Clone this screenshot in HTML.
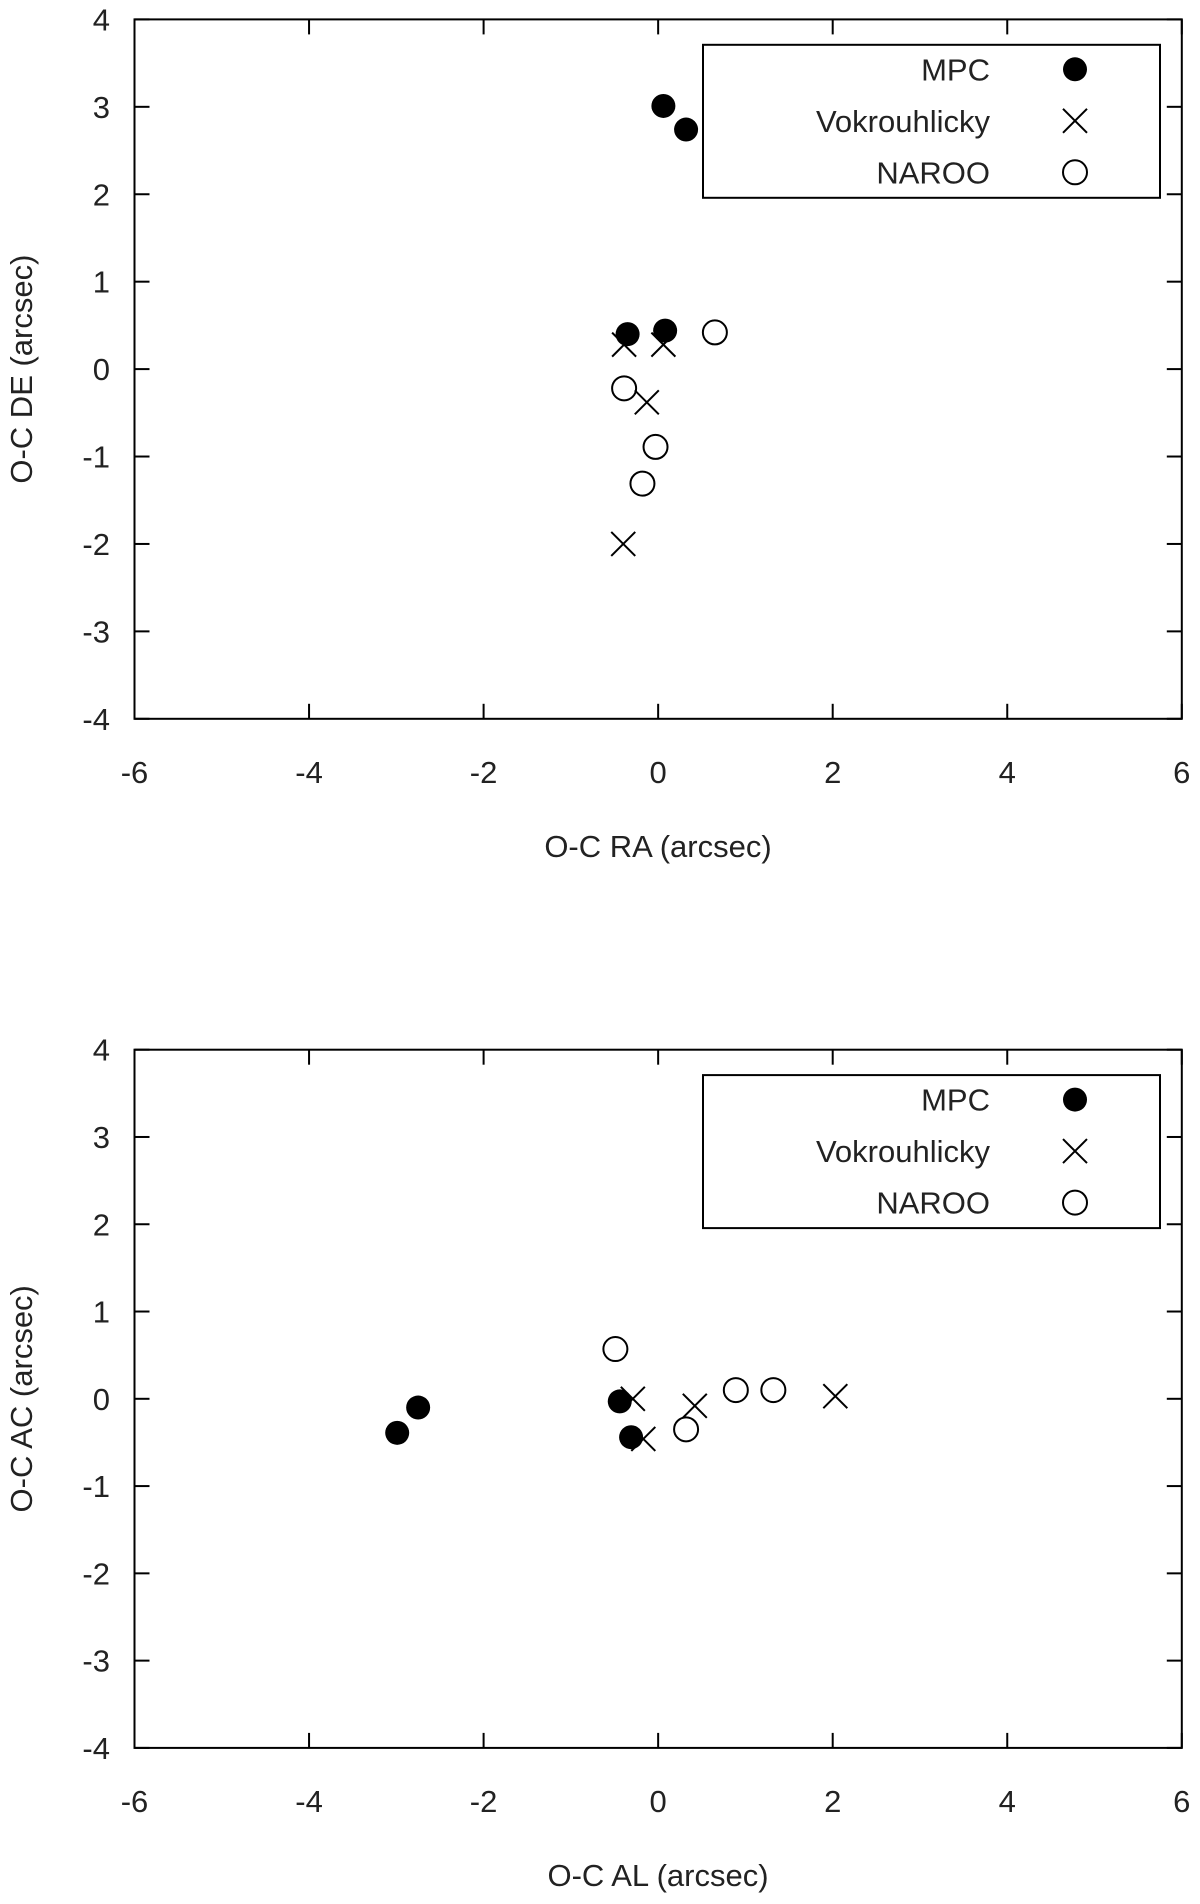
<!DOCTYPE html>
<html><head><meta charset="utf-8"><style>
html,body{margin:0;padding:0;background:#fff;}
svg{display:block;font-family:"Liberation Sans",sans-serif;}
</style></head><body>
<svg id="chart" width="1200" height="1904" viewBox="0 0 1200 1904" xmlns="http://www.w3.org/2000/svg"></svg>
<script>
// Top panel data (O-C RA, O-C DE)
const topMpcX = [0.06, 0.32, -0.35, 0.08];
const topMpcY = [3.01, 2.74, 0.40, 0.44];
const topVokX = [-0.39, 0.06, -0.13, -0.40];
const topVokY = [0.28, 0.28, -0.38, -2.0];
const topNarooX = [0.65, -0.39, -0.03, -0.18];
const topNarooY = [0.42, -0.22, -0.89, -1.31];
// Bottom panel data (O-C AL, O-C AC)
const botMpcX = [-0.44, -0.31, -2.75, -2.99];
const botMpcY = [-0.03, -0.44, -0.10, -0.39];
const botVokX = [-0.29, -0.17, 0.42, 2.03];
const botVokY = [0.0, -0.46, -0.08, 0.03];
const botNarooX = [-0.49, 0.32, 0.89, 1.32];
const botNarooY = [0.57, -0.35, 0.10, 0.10];
const xTicks = [-6, -4, -2, 0, 2, 4, 6];
const yTicks = [-4, -3, -2, -1, 0, 1, 2, 3, 4];
const legendLabels = ["MPC", "Vokrouhlicky", "NAROO"];

const NS = "http://www.w3.org/2000/svg";
const svg = document.getElementById('chart');
function mk(tag, attrs, parent, text) {
  const e = document.createElementNS(NS, tag);
  for (const k in attrs) e.setAttribute(k, attrs[k]);
  if (text !== undefined) e.textContent = text;
  (parent || svg).appendChild(e);
  return e;
}
function marker(g, type, cx, cy, name) {
  let e;
  if (type === 0) {
    e = mk('circle', {cx: cx, cy: cy, r: 12, fill: '#000'}, g);
  } else if (type === 1) {
    e = mk('path', {d: `M${cx-12},${cy-12}L${cx+12},${cy+12}M${cx+12},${cy-12}L${cx-12},${cy+12}`, stroke: '#000', 'stroke-width': 2, fill: 'none'}, g);
  } else {
    e = mk('circle', {cx: cx, cy: cy, r: 12, fill: 'none', stroke: '#000', 'stroke-width': 2}, g);
  }
  
  
  return e;
}
function panel(id, top, bottom, xTitle, yTitle, series) {
  const L = 134.5, R = 1181.8;
  const g = mk('g', {});
  
  
  const xs = v => L + (v + 6) / 12 * (R - L);
  const ys = v => bottom - (v + 4) / 8 * (bottom - top);
  const frame = mk('rect', {x: L, y: top, width: R - L, height: bottom - top, fill: 'none', stroke: '#000', 'stroke-width': 2}, g);
  
  
  xTicks.forEach(t => {
    const x = xs(t);
    mk('line', {x1: x, y1: bottom, x2: x, y2: bottom - 15, stroke: '#000', 'stroke-width': 2}, g);
    mk('line', {x1: x, y1: top, x2: x, y2: top + 15, stroke: '#000', 'stroke-width': 2}, g);
    const lb = mk('text', {x: x, y: bottom + 64, 'text-anchor': 'middle', 'font-size': 31, fill: '#222'}, g, String(t));
    
    
  });
  yTicks.forEach(t => {
    const y = ys(t);
    mk('line', {x1: L, y1: y, x2: L + 15, y2: y, stroke: '#000', 'stroke-width': 2}, g);
    mk('line', {x1: R, y1: y, x2: R - 15, y2: y, stroke: '#000', 'stroke-width': 2}, g);
    const lb = mk('text', {x: 110, y: y + 11, 'text-anchor': 'end', 'font-size': 31, fill: '#222'}, g, String(t));
    
    
  });
  const xt = mk('text', {x: 658, y: bottom + 138, 'text-anchor': 'middle', 'font-size': 31, fill: '#222'}, g, xTitle);
  
  
  const yc = (top + bottom) / 2;
  const yt = mk('text', {x: 32, y: yc, 'text-anchor': 'middle', 'font-size': 31, fill: '#222', transform: `rotate(-90 32 ${yc})`}, g, yTitle);
  
  
  // legend
  const lg = mk('g', {}, g);
  
  
  const lt = top + 25.4;
  mk('rect', {x: 703, y: lt, width: 457, height: 153, fill: '#fff', stroke: '#000', 'stroke-width': 2}, lg);
  legendLabels.forEach((name, i) => {
    const cy = lt + 24.5 + i * 51.5;
    const tx = mk('text', {x: 990, y: cy + 11, 'text-anchor': 'end', 'font-size': 31, fill: '#222'}, lg, name);
    
    
    marker(lg, i, 1075, cy, 'legend-marker');
  });
  const names = ['mpc-point', 'vokrouhlicky-point', 'naroo-point'];
  series.forEach((s, i) => {
    s[0].forEach((xv, j) => marker(g, i, xs(xv), ys(s[1][j]), names[i]));
  });
}
panel('top-panel', 19.4, 718.8, 'O-C RA (arcsec)', 'O-C DE (arcsec)',
  [[topMpcX, topMpcY], [topVokX, topVokY], [topNarooX, topNarooY]]);
panel('bottom-panel', 1049.7, 1747.9, 'O-C AL (arcsec)', 'O-C AC (arcsec)',
  [[botMpcX, botMpcY], [botVokX, botVokY], [botNarooX, botNarooY]]);
</script>
</body></html>
